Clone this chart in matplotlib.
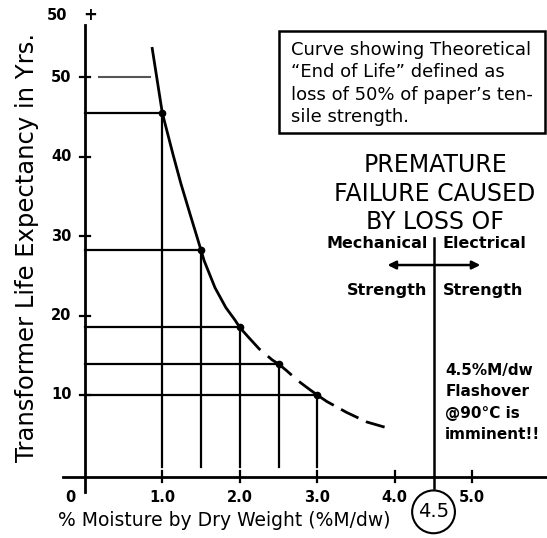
import numpy as np
import matplotlib.pyplot as plt
from matplotlib.patches import Rectangle, FancyArrowPatch

# moisture levels with their life expectancy points
moisture = [1.0, 1.5, 2.0, 2.5, 3.0]
life_yrs = [45.5, 28.2, 18.5, 13.9, 10.0]

# theoretical "end of life" curve
curve_x = [0.87, 1.0, 1.05, 1.14, 1.24, 1.36, 1.46, 1.5, 1.54, 1.68, 1.82, 1.94, 2.0,
           2.10, 2.25, 2.42, 2.5, 2.6, 2.75, 2.9, 3.0, 3.12, 3.38, 3.64, 3.96]
curve_y = [53.6, 45.5, 43.6, 40.2, 36.6, 32.7, 29.5, 28.2, 26.9, 23.5, 21.0, 19.4, 18.5,
           17.4, 15.8, 14.4, 13.9, 13.1, 11.8, 10.7, 10.0, 9.2, 7.8, 6.6, 5.7]

x_ticks = [1.0, 2.0, 3.0, 4.0, 5.0]
x_tick_labels = ['1.0', '2.0', '3.0', '4.0', '5.0']
y_ticks = [10, 20, 30, 40, 50]
y_tick_labels = ['10', '20', '30', '40', '50']

box_lines = ['Curve showing Theoretical',
             '\u201cEnd of Life\u201d defined as',
             'loss of 50% of paper\u2019s ten-',
             'sile strength.']
premature_lines = ['PREMATURE', 'FAILURE CAUSED', 'BY LOSS OF']
flash_lines = ['4.5%M/dw', 'Flashover', '@90\u00b0C is', 'imminent!!']
limit = 4.5


def main():
    fig = plt.figure(figsize=(5.47, 5.38), dpi=100)
    ax = fig.add_axes([0, 0, 1, 1])
    ax.set_xlim(-1.094, 5.964)
    ax.set_ylim(-7.99, 59.69)
    ax.axis('off')

    k = 'black'
    # axes drawn by hand, crossing like the original
    ax.plot([0, 0], [-2.2, 56.5], color=k, lw=2)
    ax.plot([-0.28, 6.0], [-0.3, -0.3], color=k, lw=2)
    for yt, lab in zip(y_ticks, y_tick_labels):
        ax.plot([-0.065, 0.065], [yt, yt], color=k, lw=1.6)
        ax.text(-0.17, yt, lab, ha='right', va='center', fontsize=10.5, fontweight='bold')
    ax.text(-0.22, 57.8, '50', ha='right', va='center', fontsize=10.5, fontweight='bold')
    ax.text(0.07, 57.8, '+', ha='center', va='center', fontsize=12, fontweight='bold')
    for xt, lab in zip(x_ticks, x_tick_labels):
        ax.plot([xt, xt], [-1.0, 0.5], color=k, lw=1.6)
        ax.text(xt, -2.9, lab, ha='center', va='center', fontsize=10.5, fontweight='bold')
    ax.text(-0.18, -2.9, '0', ha='center', va='center', fontsize=10.5, fontweight='bold')

    # grid lines to each point
    for mx, ly in zip(moisture, life_yrs):
        ax.plot([0, mx], [ly, ly], color=k, lw=1.6)
        ax.plot([mx, mx], [ly, 1.0], color=k, lw=1.6)
    ax.plot(moisture, life_yrs, 'o', color=k, ms=4.5)
    ax.plot([0.18, 0.84], [50, 50], color='#555555', lw=1.5)

    cx = np.array(curve_x)
    cy = np.array(curve_y)
    solid = cx <= 2.0
    ax.plot(cx[solid], cy[solid], color=k, lw=2)
    mid = (cx >= 2.0) & (cx <= 3.0)
    ax.plot(cx[mid], cy[mid], color=k, lw=2, dashes=(11, 3.5))
    tail = cx >= 3.0
    ax.plot(cx[tail], cy[tail], color=k, lw=2, dashes=(7, 3))

    # explanation box
    ax.add_patch(Rectangle((2.50, 42.95), 3.44, 12.85, fill=False, ec=k, lw=1.8, clip_on=False))
    for i, line in enumerate(box_lines):
        ax.text(2.66, 53.4 - i * 2.82, line, ha='left', va='center', fontsize=13)

    for i, line in enumerate(premature_lines):
        ax.text(4.52, 38.05 - i * 3.6, line, ha='center', va='baseline', fontsize=17)

    ax.text(4.43, 29.1, 'Mechanical', ha='right', va='center', fontsize=11.5, fontweight='bold')
    ax.text(4.62, 29.1, 'Electrical', ha='left', va='center', fontsize=11.5, fontweight='bold')
    ax.text(4.42, 23.2, 'Strength', ha='right', va='center', fontsize=11.5, fontweight='bold')
    ax.text(4.62, 23.2, 'Strength', ha='left', va='center', fontsize=11.5, fontweight='bold')
    ax.add_patch(FancyArrowPatch((3.87, 26.35), (5.14, 26.35), arrowstyle='<|-|>',
                                 mutation_scale=12, color=k, lw=1.8))

    ax.plot([limit, limit], [29.8, -1.7], color=k, lw=1.8)
    ax.text(limit, -4.7, '4.5', ha='center', va='center', fontsize=14,
            bbox=dict(boxstyle='circle,pad=0.3', fc='white', ec=k, lw=1.5))

    for i, line in enumerate(flash_lines):
        ax.text(4.65, 13.1 - i * 2.7, line, ha='left', va='center', fontsize=11, fontweight='bold')

    ax.text(-0.746, 28.5, 'Transformer Life Expectancy in Yrs.', rotation=90,
            ha='center', va='center', fontsize=17.5)
    ax.text(1.80, -5.85, '% Moisture by Dry Weight (%M/dw)', ha='center', va='center', fontsize=13.5)

    fig.savefig('out.png', dpi=100)


if __name__ == "__main__":
    main()
